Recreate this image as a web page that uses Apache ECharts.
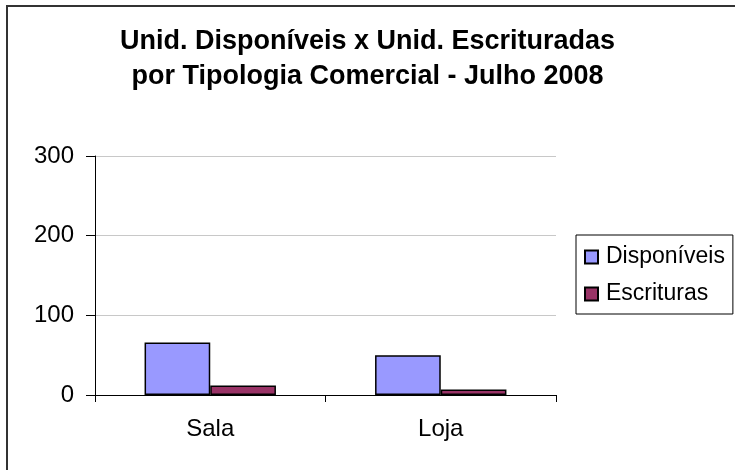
<!DOCTYPE html>
<html>
<head>
<meta charset="utf-8">
<script src="https://cdn.jsdelivr.net/npm/echarts@6/dist/echarts.min.js"></script>
<style>
  html, body { margin: 0; padding: 0; background: #fff; }
  #chart { width: 735px; height: 470px; }
</style>
</head>
<body>
<div id="chart"></div>
<script>
// dados
const categorias = ["Sala", "Loja"]
const disponiveis = [66, 50]
const escrituras = [12, 7]
const yTicks = [0, 100, 200, 300]

const fonte = "'Liberation Sans', Arial, sans-serif"
const chart = echarts.init(document.getElementById("chart"))

const options = {
  backgroundColor: "#fff",
  animation: false,
  textStyle: { fontFamily: fonte, color: "#000" },
  title: {
    text: "Unid. Disponíveis x Unid. Escrituradas\npor Tipologia Comercial - Julho 2008",
    left: "center",
    top: 24,
    padding: 0,
    textStyle: {
      fontFamily: fonte,
      fontSize: 27,
      fontWeight: "bold",
      lineHeight: 35,
      color: "#000"
    }
  },
  graphic: [
    {
      // moldura do gráfico (só topo e esquerda visíveis)
      type: "rect",
      shape: { x: 7, y: 6, width: 800, height: 600 },
      style: { fill: "none", stroke: "#333", lineWidth: 2 },
      silent: true
    }
  ],
  legend: {
    orient: "vertical",
    left: 576,
    top: 235,
    padding: [9, 8, 7, 8],
    itemGap: 11,
    itemWidth: 13,
    itemHeight: 13,
    borderColor: "#000",
    borderWidth: 1,
    backgroundColor: "#fff",
    icon: "rect",
    textStyle: { fontFamily: fonte, fontSize: 23, color: "#000", lineHeight: 26, padding: [0, 0, 0, 3] },
    data: ["Disponíveis", "Escrituras"]
  },
  grid: {
    left: 95,
    right: 179,
    top: 156,
    bottom: 75
  },
  xAxis: {
    type: "category",
    data: categorias,
    axisLine: { lineStyle: { color: "#000", width: 1 } },
    axisTick: { show: true, length: 7, lineStyle: { color: "#000" } },
    axisLabel: { fontFamily: fonte, fontSize: 24, color: "#000", margin: 22 }
  },
  yAxis: {
    type: "value",
    min: 0,
    max: 300,
    interval: 100,
    axisLine: { show: true, lineStyle: { color: "#000", width: 1 } },
    axisTick: { show: true, length: 9, lineStyle: { color: "#000" } },
    axisLabel: {
      fontFamily: fonte,
      fontSize: 24,
      color: "#000",
      margin: 21,
      formatter: function (v) {
        return yTicks.indexOf(v) >= 0 ? String(v) : ""
      }
    },
    splitLine: { lineStyle: { color: "#c8c8c8", width: 1 } }
  },
  series: [
    {
      name: "Disponíveis",
      type: "bar",
      barGap: "0%",
      barCategoryGap: "43%",
      data: disponiveis,
      itemStyle: { color: "#9999FF", borderColor: "#000", borderWidth: 1.5 }
    },
    {
      name: "Escrituras",
      type: "bar",
      barGap: "0%",
      barCategoryGap: "43%",
      data: escrituras,
      itemStyle: { color: "#993366", borderColor: "#000", borderWidth: 1.5 }
    }
  ]
}

chart.setOption(options)
</script>
</body>
</html>
